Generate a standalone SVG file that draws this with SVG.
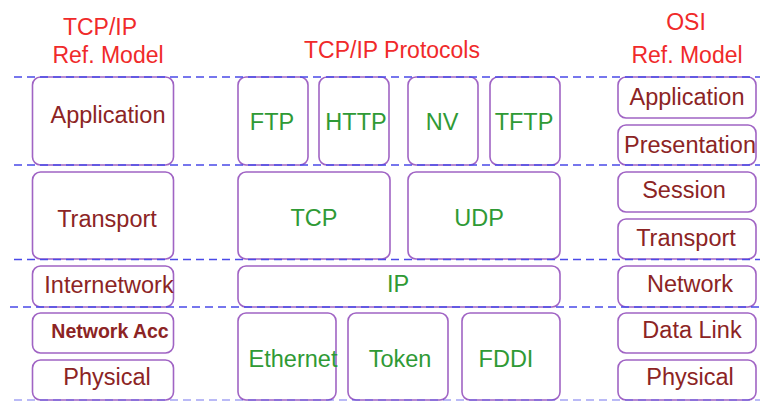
<svg xmlns="http://www.w3.org/2000/svg" width="760" height="401" viewBox="0 0 760 401">
<style>
.box{fill:#fff;stroke:#a064c4;stroke-width:1.6}
.t{font-family:"Liberation Sans",Arial,sans-serif;text-anchor:middle}
.red{fill:#f02a2a;font-size:23px}
.dk{fill:#8c2424;font-size:23.5px}
.gr{fill:#2f9a35;font-size:23.5px}
.dash{stroke:#4a4ae8;stroke-width:1.6;stroke-dasharray:8 5;fill:none}
</style>
<rect width="760" height="401" fill="#fff"/>
<g id="titles">
<text class="t red" x="100" y="35">TCP/IP</text>
<text class="t red" x="108" y="63">Ref. Model</text>
<text class="t red" x="392" y="58">TCP/IP Protocols</text>
<text class="t red" x="686" y="30">OSI</text>
<text class="t red" x="687" y="63">Ref. Model</text>
</g>
<g id="tcpip-application"><rect class="box" x="32.5" y="77" width="141" height="88" rx="8"/><text class="t dk" x="108" y="123">Application</text></g>
<g id="tcpip-transport"><rect class="box" x="32.5" y="172" width="141" height="87" rx="8"/><text class="t dk" x="107" y="227">Transport</text></g>
<g id="tcpip-internetwork"><rect class="box" x="32.5" y="266" width="141" height="41" rx="8"/><text class="t dk" x="109" y="293">Internetwork</text></g>
<g id="tcpip-networkacc"><rect class="box" x="32.5" y="313" width="141" height="40" rx="8"/><text class="t dk" x="110" y="338" style="font-size:19.5px;font-weight:bold">Network Acc</text></g>
<g id="tcpip-physical"><rect class="box" x="32.5" y="360" width="141" height="40" rx="8"/><text class="t dk" x="107" y="385">Physical</text></g>

<g id="ftp"><rect class="box" x="238" y="77" width="70" height="88" rx="8"/><text class="t gr" x="272" y="130">FTP</text></g>
<g id="http"><rect class="box" x="319" y="77" width="70" height="88" rx="8"/><text class="t gr" x="356" y="130">HTTP</text></g>
<g id="nv"><rect class="box" x="408" y="77" width="70" height="88" rx="8"/><text class="t gr" x="442" y="130">NV</text></g>
<g id="tftp"><rect class="box" x="490" y="77" width="70" height="88" rx="8"/><text class="t gr" x="524" y="130">TFTP</text></g>
<g id="tcp"><rect class="box" x="238" y="172" width="152" height="87" rx="8"/><text class="t gr" x="314" y="226">TCP</text></g>
<g id="udp"><rect class="box" x="408" y="172" width="152" height="87" rx="8"/><text class="t gr" x="479" y="226">UDP</text></g>
<g id="ip"><rect class="box" x="238" y="266" width="322" height="41" rx="8"/><text class="t gr" x="398" y="292">IP</text></g>
<g id="ethernet"><rect class="box" x="238" y="313" width="98" height="87" rx="8"/><text class="t gr" x="293" y="367">Ethernet</text></g>
<g id="token"><rect class="box" x="348" y="313" width="100" height="87" rx="8"/><text class="t gr" x="400" y="367">Token</text></g>
<g id="fddi"><rect class="box" x="462" y="313" width="98" height="87" rx="8"/><text class="t gr" x="506" y="367">FDDI</text></g>

<g id="osi-application"><rect class="box" x="618" y="77" width="138" height="41" rx="8"/><text class="t dk" x="687" y="105">Application</text></g>
<g id="osi-presentation"><rect class="box" x="618" y="125" width="138" height="40" rx="8"/><text class="t dk" x="690" y="153">Presentation</text></g>
<g id="osi-session"><rect class="box" x="618" y="172" width="138" height="40" rx="8"/><text class="t dk" x="684" y="198">Session</text></g>
<g id="osi-transport"><rect class="box" x="618" y="219" width="138" height="40" rx="8"/><text class="t dk" x="686" y="246">Transport</text></g>
<g id="osi-network"><rect class="box" x="618" y="266" width="138" height="41" rx="8"/><text class="t dk" x="690" y="292">Network</text></g>
<g id="osi-datalink"><rect class="box" x="618" y="313" width="138" height="40" rx="8"/><text class="t dk" x="692" y="338">Data Link</text></g>
<g id="osi-physical"><rect class="box" x="618" y="360" width="138" height="40" rx="8"/><text class="t dk" x="690" y="385">Physical</text></g>

<g id="connectors">
<line class="dash" x1="14" y1="77" x2="760" y2="77"/>
<line class="dash" x1="14" y1="165" x2="760" y2="165"/>
<line class="dash" x1="14" y1="259.5" x2="760" y2="259.5"/>
<line class="dash" x1="10" y1="307" x2="760" y2="307"/>
<line class="dash" x1="14" y1="400" x2="760" y2="400" style="opacity:0.5"/>
</g>
</svg>
